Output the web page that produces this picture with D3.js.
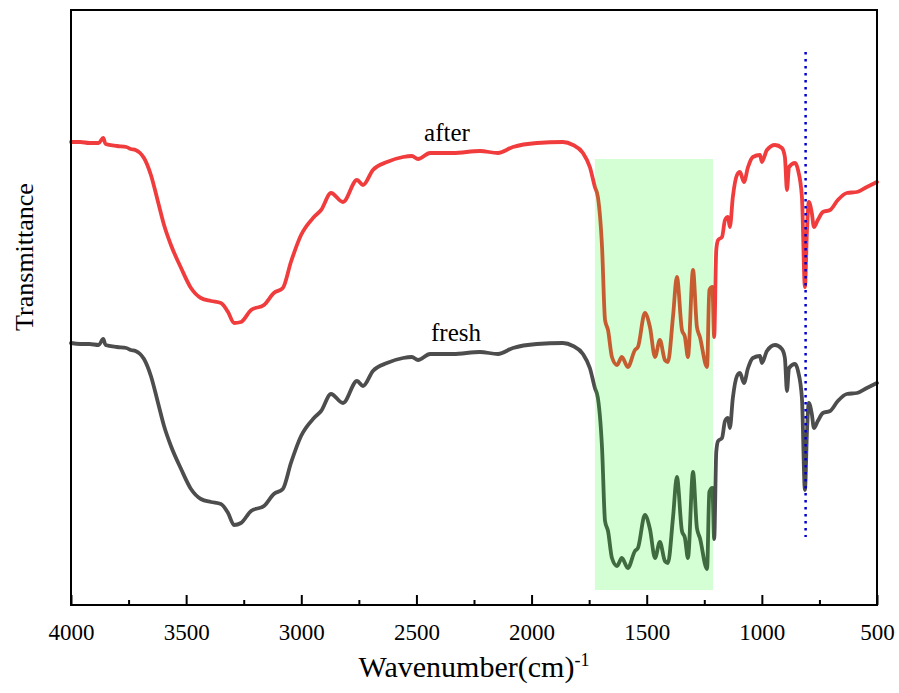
<!DOCTYPE html>
<html>
<head>
<meta charset="utf-8">
<script src="https://cdn.jsdelivr.net/npm/d3@7"></script>
<style>
  body { margin: 0; background: #fff; }
  svg { display: block; }
  text { font-family: "Liberation Serif", "Times New Roman", serif; fill: #000; }
</style>
</head>
<body>
<svg id="chart" width="899" height="693"></svg>
<script>
// ---- DATA (transmittance in arbitrary units) ----
const wavenumbers = [4000,3960,3920,3880,3860,3850,3800,3760,3740,3720,3700,3683,3653,3622,3596,3566,3522,3479,3436,3392,3349,3318,3292,3262,3218,3162,3119,3080,3045,3001,2945,2914,2871,2819,2758,2732,2689,2628,2558,2520,2493,2441,2341,2224,2146,2081,1977,1864,1820,1777,1747,1725,1712,1694,1681,1668,1651,1629,1608,1582,1551,1538,1508,1486,1464,1443,1421,1408,1386,1369,1347,1334,1321,1299,1282,1269,1238,1228,1215,1207,1198,1190,1173,1160,1147,1139,1126,1108,1095,1078,1060,1039,1008,1000,978,943,913,900,891,882,856,843,826,813,804,796,783,774,757,735,704,670,631,587,544,500];

const afterValues = [463,463,462,462,467,461,459,458,456,455,452,447,430,403,380,360,337,317,307,304,302,293,282,283,295,300,312,317,343,370,388,395,412,403,425,420,435,443,448,449,446,452,452,454,452,458,462,463,460,452,438,418,408,358,285,275,248,240,248,238,255,258,292,278,248,265,245,243,288,328,275,268,248,335,278,268,238,315,318,268,355,365,368,385,388,378,408,430,433,423,438,448,450,443,455,460,457,448,415,438,442,435,408,318,375,403,392,378,385,393,395,405,412,413,418,423];

const freshValues = [262,261,261,260,266,260,258,257,255,254,251,246,229,202,179,159,136,116,106,103,101,92,80,82,94,99,111,116,142,169,187,194,211,202,224,219,234,242,247,248,245,251,251,253,251,257,261,262,259,251,237,217,207,157,84,74,47,39,47,37,54,57,90,76,47,63,44,42,87,128,74,67,47,133,77,67,36,113,117,66,153,164,167,184,187,177,207,229,232,222,237,247,249,242,254,260,256,247,214,237,241,234,207,115,174,202,191,177,184,192,194,204,211,212,217,222];

const xTicks = [4000,3500,3000,2500,2000,1500,1000,500];
const xMinorTicks = [3750,3250,2750,2250,1750,1250,750];
const seriesNames = ["after","fresh"];
const highlightBand = [1725, 1212];      // wavenumber range of shaded band
const highlightLevels = [15, 446];       // transmittance range of shaded band
const markerWavenumber = 810;            // dotted reference line
const markerLevels = [68, 553];

// ---- LAYOUT ----
const W = 899, H = 693;
const m = {left: 71, top: 10, right: 22, bottom: 88};
const SERIF = '"Liberation Serif", "Times New Roman", serif';
const svg = d3.select("#chart");

const x = d3.scaleLinear().domain([4000, 500]).range([m.left, W - m.right]);
const y = d3.scaleLinear().domain([0, 595]).range([H - m.bottom, m.top]);

const line = d3.line()
  .x(d => x(d[0])).y(d => y(d[1]))
  .curve(d3.curveMonotoneX);

const afterData = wavenumbers.map((w, i) => [w, afterValues[i]]);
const freshData = wavenumbers.map((w, i) => [w, freshValues[i]]);

svg.append("path").datum(afterData)
  .attr("d", line).attr("fill", "none")
  .attr("stroke", "#F03C3C").attr("stroke-width", 3.8)
  .attr("stroke-linejoin", "round").attr("stroke-linecap", "round");

svg.append("path").datum(freshData)
  .attr("d", line).attr("fill", "none")
  .attr("stroke", "#4D4D4D").attr("stroke-width", 3.8)
  .attr("stroke-linejoin", "round").attr("stroke-linecap", "round");

// shaded band drawn over the curves
svg.append("rect")
  .attr("x", x(highlightBand[0]))
  .attr("width", x(highlightBand[1]) - x(highlightBand[0]))
  .attr("y", y(highlightLevels[1]))
  .attr("height", y(highlightLevels[0]) - y(highlightLevels[1]))
  .attr("fill", "rgb(0,255,0)").attr("fill-opacity", 0.17);

// dotted marker line
svg.append("line")
  .attr("x1", x(markerWavenumber)).attr("x2", x(markerWavenumber))
  .attr("y1", y(markerLevels[1])).attr("y2", y(markerLevels[0]))
  .attr("stroke", "#0000D0").attr("stroke-width", 2.5)
  .attr("stroke-dasharray", "2.5,4.5");

// frame
svg.append("rect")
  .attr("x", m.left).attr("y", m.top)
  .attr("width", W - m.left - m.right).attr("height", H - m.top - m.bottom)
  .attr("fill", "none").attr("stroke", "#000").attr("stroke-width", 2);

// x axis
const xAxis = svg.append("g")
  .attr("transform", `translate(0,${H - m.bottom})`)
  .call(d3.axisBottom(x).tickValues(xTicks).tickSizeInner(-10).tickSizeOuter(0).tickPadding(19).tickFormat(d3.format("d")));
xAxis.attr("font-family", null).style("font-family", SERIF);
xAxis.select(".domain").remove();
xAxis.selectAll(".tick line").attr("stroke-width", 2);
xAxis.selectAll("text").style("font-family", SERIF).style("font-size", "23px");

const xMinor = svg.append("g")
  .attr("transform", `translate(0,${H - m.bottom})`)
  .call(d3.axisBottom(x).tickValues(xMinorTicks).tickSizeInner(-5).tickSizeOuter(0).tickFormat(""));
xMinor.select(".domain").remove();
xMinor.selectAll(".tick line").attr("stroke-width", 2);

// series labels
svg.append("text").attr("x", 447).attr("y", 141).attr("text-anchor", "middle")
  .style("font-size", "25px").text(seriesNames[0]);
svg.append("text").attr("x", 456).attr("y", 341).attr("text-anchor", "middle")
  .style("font-size", "25px").text(seriesNames[1]);

// axis titles
const xt = svg.append("text").attr("x", (m.left + W - m.right) / 2).attr("y", 677)
  .attr("text-anchor", "middle").style("font-size", "30px");
xt.append("tspan").text("Wavenumber(cm)");
xt.append("tspan").attr("dy", -11).style("font-size", "18px").text("-1");

svg.append("text")
  .attr("transform", "translate(33,257) rotate(-90)")
  .attr("text-anchor", "middle").style("font-size", "26px")
  .text("Transmittance");
</script>
</body>
</html>
